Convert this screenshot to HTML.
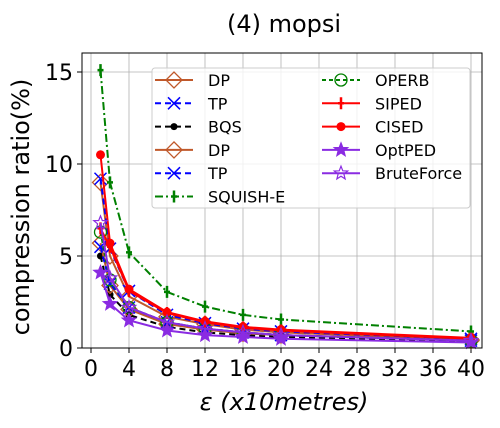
<!DOCTYPE html>
<html><head><meta charset="utf-8"><style>
body{margin:0;background:#fff;}
svg text{font-family:"DejaVu Sans","Liberation Sans",sans-serif;}
</style></head><body>
<svg id="c" width="500" height="423" xmlns="http://www.w3.org/2000/svg"></svg>
<script>
const xCats=[1,2,4,8,12,16,20,40];
const xTicks=[0,4,8,12,16,20,24,28,32,36,40];
const yTicks=[0,5,10,15];
const sDP1=[9.0,5.0,2.8,1.7,1.3,1.0,0.85,0.45];
const sTP1=[9.2,5.4,3.1,1.8,1.35,1.05,0.9,0.5];
const sBQS=[5.0,2.9,1.8,1.15,0.85,0.7,0.6,0.35];
const sDP2=[5.7,3.4,2.1,1.3,1.0,0.8,0.7,0.4];
const sTP2=[5.5,3.5,2.2,1.4,1.05,0.85,0.7,0.4];
const sSQUISH=[15.1,9.0,5.2,3.05,2.25,1.8,1.55,0.9];
const sOPERB=[6.3,3.7,2.2,1.4,1.05,0.85,0.7,0.4];
const sSIPED=[6.5,5.5,3.1,1.9,1.4,1.1,0.95,0.5];
const sCISED=[10.5,5.7,3.2,1.95,1.45,1.15,1.0,0.55];
const sOptPED=[4.1,2.4,1.5,0.95,0.7,0.6,0.5,0.3];
const sBrute=[6.8,3.8,2.2,1.4,1.05,0.85,0.7,0.4];
const L=82,R=482,T=53,B=348;
const X=v=>91+v*9.5, Y=v=>348-v*18.4;
const svg=document.getElementById('c');const NS='http://www.w3.org/2000/svg';
function el(t,a,p){const e=document.createElementNS(NS,t);for(const k in a)e.setAttribute(k,a[k]);(p||svg).appendChild(e);return e;}
xTicks.forEach(t=>{const g=el('line',{x1:X(t),x2:X(t),y1:T,y2:B,stroke:'#b0b0b0','stroke-width':0.8});


const tx=el('text',{x:X(t),y:B+28,'font-size':22,'text-anchor':'middle'});tx.textContent=t;


el('line',{x1:X(t),x2:X(t),y1:B,y2:B+5,stroke:'#000'});});
yTicks.forEach(t=>{const g=el('line',{x1:L,x2:R,y1:Y(t),y2:Y(t),stroke:'#b0b0b0','stroke-width':0.8});


const tx=el('text',{x:L-9,y:Y(t)+8,'font-size':22,'text-anchor':'end'});tx.textContent=t;


el('line',{x1:L-5,x2:L,y1:Y(t),y2:Y(t),stroke:'#000'});});
function marker(type,x,y,c,p){
 if(type==='d')el('path',{d:`M${x-8},${y}L${x},${y-8}L${x+8},${y}L${x},${y+8}Z`,fill:'none',stroke:c,'stroke-width':1.3},p);
 else if(type==='x')el('path',{d:`M${x-6},${y-6}L${x+6},${y+6}M${x-6},${y+6}L${x+6},${y-6}`,stroke:c,'stroke-width':1.5},p);
 else if(type==='dot')el('circle',{cx:x,cy:y,r:3.5,fill:c},p);
 else if(type==='big')el('circle',{cx:x,cy:y,r:4.5,fill:c},p);
 else if(type==='o')el('circle',{cx:x,cy:y,r:6,fill:'none',stroke:c,'stroke-width':1.3},p);
 else if(type==='+')el('path',{d:`M${x},${y-6}L${x},${y+6}M${x-3},${y}L${x+3},${y}`,stroke:c,'stroke-width':2.5},p);
 else if(type==='s'||type==='so'){let d='';for(let i=0;i<10;i++){const r=i%2?3:7;const a=-Math.PI/2+i*Math.PI/5;d+=(i?'L':'M')+(x+r*Math.cos(a)).toFixed(1)+','+(y+r*Math.sin(a)).toFixed(1);}
  el('path',{d:d+'Z',fill:type==='s'?c:'none',stroke:c,'stroke-width':1.2},p);}
}
const series=[
 ['DP',sDP1,'#c0582a','','d','series-dp'],
 ['TP',sTP1,'#0000ff','6,4','x','series-tp'],
 ['BQS',sBQS,'#000','6,4','dot','series-bqs'],
 ['DP',sDP2,'#c0582a','','d','series-dp-2'],
 ['TP',sTP2,'#0000ff','6,4','x','series-tp-2'],
 ['SQUISH-E',sSQUISH,'#008000','8,3,2,3','+','series-squish-e'],
 ['OPERB',sOPERB,'#008000','4,3','o','series-operb'],
 ['SIPED',sSIPED,'#ff0000','','+','series-siped'],
 ['CISED',sCISED,'#ff0000','','big','series-cised'],
 ['OptPED',sOptPED,'#8a2be2','','s','series-optped'],
 ['BruteForce',sBrute,'#8a2be2','','so','series-bruteforce']];
series.forEach(s=>{const g=el('g',{});


el('polyline',{points:xCats.map((x,i)=>X(x)+','+Y(s[1][i])).join(' '),fill:'none',stroke:s[2],'stroke-width':2,'stroke-dasharray':s[3]},g);
xCats.forEach((x,i)=>marker(s[4],X(x),Y(s[1][i]),s[2],g));});
el('rect',{x:L,y:T,width:R-L,height:B-T,fill:'none',stroke:'#000','stroke-width':1});
const lg=el('g',{});


el('rect',{x:152,y:68,width:318,height:140,rx:3,fill:'#fff','fill-opacity':0.8,stroke:'#ccc'},lg);
series.forEach((s,i)=>{const col=i<6?0:1,row=i<6?i:i-6;const x0=col?322:155,y=80+row*23.3;
 const e=el('g',{},lg);
 
 
 el('line',{x1:x0,x2:x0+38,y1:y,y2:y,stroke:s[2],'stroke-width':2,'stroke-dasharray':s[3]},e);
 marker(s[4],x0+19,y,s[2],e);
 const t=el('text',{x:x0+53,y:y+6,'font-size':16},e);t.textContent=s[0];});
const ti=el('text',{x:284,y:32,'font-size':24,'text-anchor':'middle'});ti.textContent='(4) mopsi';


const xl=el('text',{x:284,y:410,'font-size':24,'text-anchor':'middle','font-style':'italic'});xl.textContent='ε (x10metres)';


const yl=el('text',{x:0,y:0,'font-size':24,'text-anchor':'middle',transform:'translate(29,207) rotate(-90)'});yl.textContent='compression ratio(%)';


</script>
</body></html>
